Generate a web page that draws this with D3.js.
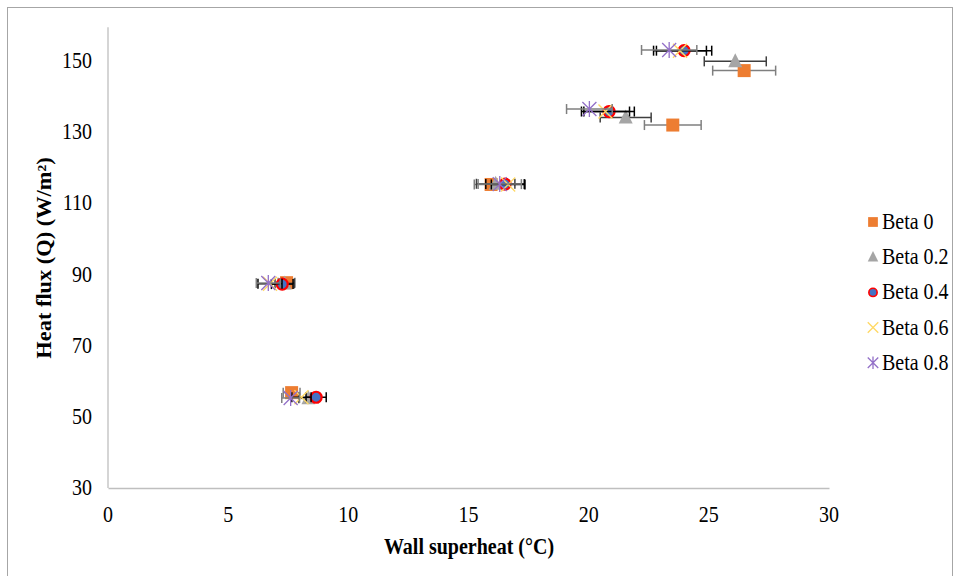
<!DOCTYPE html>
<html><head><meta charset="utf-8">
<script src="https://cdn.jsdelivr.net/npm/d3@7"></script>
<style>body{margin:0;background:#fff}svg{display:block}</style>
</head><body>
<svg id="c" width="956" height="576"></svg>
<script>
const seriesNames = ["Beta 0", "Beta 0.2", "Beta 0.4", "Beta 0.6", "Beta 0.8"];
const beta0X   = [7.64, 7.43, 15.94, 23.50, 26.47];
const beta0Y   = [56.8, 87.7, 115.3, 132.0, 147.3];
const beta0E   = [0.35, 0.35, 0.70, 1.18, 1.31];
const beta02X  = [8.34, 7.35, 16.13, 21.54, 26.10];
const beta02Y  = [55.2, 87.5, 115.5, 134.1, 149.9];
const beta02E  = [0.40, 0.40, 0.80, 1.06, 1.29];
const beta04X  = [8.66, 7.25, 16.52, 20.85, 23.97];
const beta04Y  = [55.5, 87.3, 115.4, 135.8, 152.9];
const beta04E  = [0.42, 0.45, 0.80, 1.05, 1.15];
const beta06X  = [8.05, 6.74, 16.65, 20.70, 23.80];
const beta06Y  = [55.5, 87.4, 115.3, 135.8, 152.9];
const beta06E  = [0.40, 0.50, 0.70, 1.00, 1.10];
const beta08X  = [7.60, 6.67, 16.30, 20.03, 23.35];
const beta08Y  = [55.3, 87.6, 115.4, 136.5, 153.1];
const beta08E  = [0.37, 0.50, 0.90, 0.95, 1.15];
const xTicks = [0, 5, 10, 15, 20, 25, 30];
const yTicks = [30, 50, 70, 90, 110, 130, 150];

const seriesX = [beta0X, beta02X, beta04X, beta06X, beta08X];
const seriesY = [beta0Y, beta02Y, beta04Y, beta06Y, beta08Y];
const seriesE = [beta0E, beta02E, beta04E, beta06E, beta08E];
const errColors = ["#7f7f7f", "#3f3f3f", "#000000", "#000000", "#7f7f7f"];

const svg = d3.select("#c");
const font = "'Liberation Serif','Times New Roman',serif";
const VS = 1.12; // vertical stretch of the reference's text

function txt(px, py, s, opts = {}) {
  const t = svg.append("text")
    .attr("transform", `translate(${px},${py}) scale(1,${VS})${opts.rotate ? " rotate(" + opts.rotate + ")" : ""}`)
    .attr("font-family", font).attr("font-size", opts.size || 20).attr("fill", "#000")
    .attr("text-anchor", opts.anchor || "start").text(s);
  if (opts.bold) t.attr("font-weight", "bold");
  return t;
}

// outer border
svg.append("rect").attr("x", 7.5).attr("y", 7.5).attr("width", 945).attr("height", 600)
  .attr("fill", "none").attr("stroke", "#a6a6a6").attr("stroke-width", 1);

const x = d3.scaleLinear().domain([0, 30]).range([108, 829]);
const y = d3.scaleLinear().domain([30, 150]).range([488, 61]);

// axes
const xAxis = svg.append("g").attr("transform", `translate(0,${y(30)})`)
  .call(d3.axisBottom(x).tickValues(xTicks).tickSize(0).tickFormat(""));
xAxis.select(".domain").attr("stroke", "#bfbfbf").attr("stroke-width", 1.3);
xTicks.forEach(v => txt(x(v), 522, d3.format("d")(v), { anchor: "middle" }));

const yAxis = svg.append("g").attr("transform", `translate(${x(0)},0)`)
  .call(d3.axisLeft(y).tickValues(yTicks).tickSize(0).tickFormat(""));
yAxis.select(".domain").remove();
yTicks.forEach(v => txt(92, y(v) + 7, d3.format("d")(v), { anchor: "end" }));
svg.append("line").attr("x1", x(0)).attr("x2", x(0)).attr("y1", y(30)).attr("y2", y(159.5))
  .attr("stroke", "#bfbfbf").attr("stroke-width", 1.3);

// titles
txt(469, 554, "Wall superheat (°C)", { anchor: "middle", bold: true });
txt(51, 258, "Heat flux (Q) (W/m²)", { anchor: "middle", bold: true, rotate: -90 });

function drawMarker(g, i, cx, cy, s) {
  if (i === 0) {
    g.append("rect").attr("x", cx - 6.5 * s).attr("y", cy - 6.5 * s).attr("width", 13 * s).attr("height", 13 * s)
      .attr("fill", "#ED7D31");
  } else if (i === 1) {
    const h = 14 * s, w = 14 * s;
    g.append("path").attr("d", `M${cx},${cy - h / 2 - 1}L${cx + w / 2},${cy + h / 2 - 1}L${cx - w / 2},${cy + h / 2 - 1}Z`)
      .attr("fill", "#A5A5A5");
  } else if (i === 2) {
    g.append("circle").attr("cx", cx).attr("cy", cy).attr("r", 5.5 * s)
      .attr("fill", "#4472C4").attr("stroke", "#FF0000").attr("stroke-width", 2.2 * s);
  } else if (i === 3) {
    const r = 7 * s;
    g.append("path").attr("d", `M${cx - r},${cy - r}L${cx + r},${cy + r}M${cx - r},${cy + r}L${cx + r},${cy - r}`)
      .attr("stroke", "#FFD966").attr("stroke-width", 1.4).attr("fill", "none");
  } else {
    const r = 7 * s;
    g.append("path").attr("d", `M${cx - r},${cy - r}L${cx + r},${cy + r}M${cx - r},${cy + r}L${cx + r},${cy - r}M${cx},${cy - r - 1}L${cx},${cy + r + 1}`)
      .attr("stroke", "#9370C8").attr("stroke-width", 1.3).attr("fill", "none");
  }
}

seriesNames.forEach((name, i) => {
  const g = svg.append("g");
  const xs = seriesX[i], ys = seriesY[i], es = seriesE[i];
  xs.forEach((xv, j) => {
    const cy = y(ys[j]);
    const x1 = x(xv - es[j]), x2 = x(xv + es[j]);
    g.append("line").attr("x1", x1).attr("x2", x2).attr("y1", cy).attr("y2", cy)
      .attr("stroke", errColors[i]).attr("stroke-width", 1.5);
    [x1, x2].forEach(xx => g.append("line").attr("x1", xx).attr("x2", xx).attr("y1", cy - 5).attr("y2", cy + 5)
      .attr("stroke", errColors[i]).attr("stroke-width", 1.5));
  });
  xs.forEach((xv, j) => drawMarker(g, i, x(xv), y(ys[j]), 1));
});

// legend
seriesNames.forEach((name, i) => {
  const ly = 222 + i * 35.2;
  const g = svg.append("g");
  drawMarker(g, i, 873, ly, 0.75);
  txt(882, ly + 7, name);
});
</script>
</body></html>
